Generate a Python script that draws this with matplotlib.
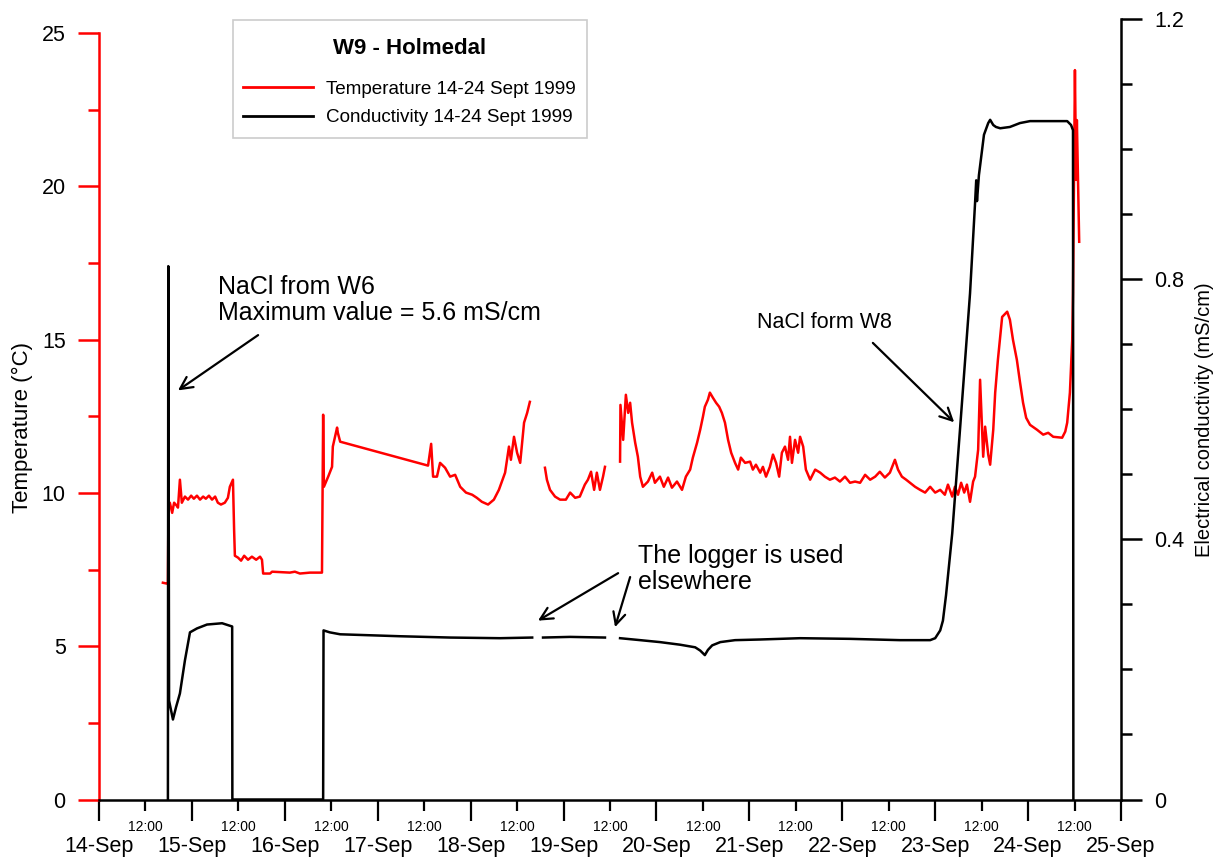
import numpy as np
import pandas as pd
import matplotlib
matplotlib.use("Agg")
import matplotlib.pyplot as plt
import matplotlib.dates as mdates
from matplotlib.patches import Rectangle
from matplotlib.ticker import MultipleLocator, FixedLocator

plt.rcParams['font.family'] = ['Liberation Sans', 'DejaVu Sans']

START = pd.Timestamp('1999-09-14 00:00')
END = pd.Timestamp('1999-09-25 00:00')

# Temperature (°C) logged at W9, hours after 14 Sept 00:00 (NaN = logger out of water)
temp_hours = [
    16.5, 17.6, 17.8, 17.95, 18.3, 18.9, 19.4, 20.1, 20.4, 20.9, 21.4, 22.2, 23.0, 23.8,
    24.5, 25.3, 26.1, 26.9, 27.6, 28.4, 29.2, 30.0, 30.7, 31.5, 32.5, 33.3, 33.8, 34.6,
    34.9, 35.1, 35.9, 36.7, 37.5, 38.5, 39.5, 40.6, 41.6, 42.1, 42.4, 44.2, 44.7, 49.3,
    50.6, 51.9, 54.5, 57.6, 57.9, 58.1, 59.2, 60.2, 60.4, 61.5, 61.7, 62.3, 85.0, 85.8,
    86.3, 87.3, 88.1, 89.4, 90.7, 92.0, 93.3, 94.8, 96.4, 97.6, 98.9, 100.5, 102.0, 103.3,
    104.9, 105.9, 106.4, 107.2, 108.0, 108.8, 109.8, 110.6, 111.3, 113.0,
    115.2, 115.7, 116.5, 117.8, 119.1, 120.6, 121.7, 123.0, 124.2, 125.5, 126.3, 127.1,
    127.9, 128.6, 129.4, 130.2, 130.7, 132.5,
    134.6, 134.7, 135.4, 136.1, 136.7, 137.2, 137.7, 138.5, 139.2, 139.8, 140.5, 141.8,
    142.9, 143.6, 144.9, 145.9, 147.0, 148.0, 149.3, 150.6, 151.6, 152.7, 153.4, 154.5,
    155.3, 156.0, 156.5, 157.3, 157.8, 158.6, 159.4, 160.2, 160.9, 161.7, 162.5, 163.3,
    164.3, 165.1, 165.8, 166.9, 168.2, 168.9, 169.7, 170.8, 171.5, 172.3, 173.3, 174.1,
    174.9, 175.7, 176.4, 177.2, 178.0, 178.5, 179.0, 179.8, 180.6, 181.1, 181.9, 182.6,
    183.7, 185.0, 186.3, 187.5, 188.8, 190.1, 191.4, 192.7, 194.0, 195.3, 196.6, 197.9,
    199.2, 200.5, 201.7, 203.0, 204.3, 205.6, 206.4, 207.4, 208.5, 209.5, 210.8, 212.1,
    213.4, 214.7, 216.0, 217.3, 218.5, 219.3, 220.4, 221.1, 221.9, 222.7, 223.5, 224.2,
    225.0, 225.8, 226.3, 227.1, 227.6, 228.4, 228.9, 229.7, 230.2, 231.0, 231.5, 232.2,
    233.3, 234.6, 235.3, 236.1, 237.1, 237.9, 238.7, 239.5, 240.5, 242.3, 243.9, 245.2,
    246.5, 248.8, 249.6, 250.1, 250.8, 251.4, 251.6, 252.1, 252.4, 252.6, 253.2,
]
temp_values = [
    7.07, 7.04, 7.07, 9.68, 9.68, 9.35, 9.68, 9.58, 9.52, 10.43, 9.68, 9.88, 9.78, 9.91,
    9.81, 9.91, 9.78, 9.88, 9.81, 9.91, 9.78, 9.88, 9.68, 9.62, 9.68, 9.84, 10.2, 10.43,
    8.8, 7.95, 7.89, 7.79, 7.95, 7.82, 7.92, 7.82, 7.92, 7.82, 7.37, 7.37, 7.43, 7.40,
    7.43, 7.37, 7.40, 7.40, 12.55, 10.2, 10.53, 10.85, 11.51, 12.13, 11.96, 11.67, 10.89, 11.6,
    10.53, 10.53, 10.98, 10.82, 10.53, 10.59, 10.2, 10.01, 9.94, 9.84, 9.71, 9.62, 9.78, 10.1,
    10.66, 11.51, 11.08, 11.83, 11.31, 10.98, 12.29, 12.61, 12.97, np.nan,
    10.82, 10.43, 10.1, 9.88, 9.78, 9.78, 10.01, 9.84, 9.88, 10.27, 10.43, 10.69,
    10.1, 10.66, 10.1, 10.53, 10.85, np.nan,
    11.02, 12.87, 11.73, 13.2, 12.61, 12.94, 12.29, 11.64, 11.18, 10.53, 10.2, 10.37,
    10.66, 10.33, 10.53, 10.2, 10.5, 10.17, 10.37, 10.1, 10.53, 10.76, 11.15, 11.64,
    12.06, 12.48, 12.81, 13.04, 13.27, 13.1, 12.94, 12.81, 12.61, 12.29, 11.73, 11.31,
    10.98, 10.76, 11.15, 10.98, 11.02, 10.76, 10.92, 10.66, 10.85, 10.53, 10.85, 11.25,
    10.98, 10.53, 11.31, 11.51, 11.08, 11.83, 10.98, 11.73, 11.31, 11.83, 11.51, 10.76,
    10.43, 10.76, 10.66, 10.53, 10.43, 10.5, 10.37, 10.53, 10.33, 10.37, 10.33, 10.59,
    10.43, 10.53, 10.69, 10.5, 10.66, 11.08, 10.76, 10.53, 10.43, 10.33, 10.2, 10.1,
    10.01, 10.2, 10.01, 10.1, 9.94, 10.27, 9.88, 10.2, 9.94, 10.33, 10.01, 10.27,
    9.71, 10.37, 10.53, 11.41, 13.69, 11.18, 12.16, 11.25, 10.92, 12.06, 13.27, 14.34,
    15.74, 15.91, 15.65, 14.99, 14.34, 13.62, 12.94, 12.45, 12.22, 12.06, 11.9, 11.96,
    11.83, 11.8, 12.0, 12.29, 13.27, 14.99, 16.53, 23.79, 20.21, 22.16, 18.19,
]

# Electrical conductivity (mS/cm), same time base
cond_hours = [
    17.8, 17.9, 18.1, 19.1, 19.9, 20.9, 22.2, 23.5, 25.3, 27.9, 31.8, 34.4, 34.45, 57.9,
    58.0, 59.6, 62.3, 77.8, 90.7, 103.6, 111.9, 113.3, 114.7, 121.7, 130.7, 132.6,
    134.6, 139.8, 144.9, 150.1, 154.0, 155.3, 156.5, 157.3, 158.4, 160.5, 164.3, 170.8,
    181.1, 194.0, 206.9, 214.7, 216.0, 217.3, 218.0, 218.8, 220.4, 222.4, 225.0, 226.3,
    226.6, 226.8, 227.3, 228.1, 228.6, 229.7, 230.2, 231.0, 231.7, 232.8, 235.3, 237.9,
    240.5, 245.7, 250.1, 251.1, 251.6, 251.7,
]
cond_values = [
    0.0, 0.82, 0.152, 0.123, 0.142, 0.163, 0.214, 0.257, 0.263, 0.269, 0.271, 0.266, 0.0, 0.0,
    0.26, 0.257, 0.254, 0.251, 0.249, 0.248, 0.249, np.nan, 0.249, 0.250, 0.249, np.nan,
    0.248, 0.245, 0.242, 0.238, 0.234, 0.229, 0.222, 0.230, 0.237, 0.242, 0.245, 0.246,
    0.248, 0.247, 0.245, 0.245, 0.248, 0.26, 0.275, 0.314, 0.409, 0.568, 0.778, 0.917,
    0.952, 0.92, 0.96, 0.998, 1.022, 1.04, 1.045, 1.037, 1.034, 1.032, 1.034, 1.04,
    1.043, 1.043, 1.043, 1.037, 1.029, 0.0,
]

day_labels_fmt = '%d-%b'
noon_labels_fmt = '%H:%M'


def when(hours):
    return START + pd.to_timedelta(np.asarray(hours, dtype=float), unit='h')


def xnum(hours):
    return mdates.date2num(START + pd.Timedelta(hours=hours))


W, H = 1221, 857
fig = plt.figure(figsize=(W / 100, H / 100), dpi=100)
ax = fig.add_axes([99 / W, 1 - 799.5 / H, (1121 - 99) / W, 780.5 / H])
ax2 = ax.twinx()

l1, = ax.plot(when(temp_hours), temp_values, color='#ff0000', lw=1.8,
              label='Temperature 14-24 Sept 1999')
l2, = ax2.plot(when(cond_hours), cond_values, color='black', lw=1.8,
               label='Conductivity 14-24 Sept 1999')

# x axis: days with noon sub-ticks
ax.set_xlim(START, END)
ax.xaxis.set_major_locator(mdates.DayLocator())
ax.xaxis.set_major_formatter(mdates.DateFormatter(day_labels_fmt))
ax.xaxis.set_minor_locator(mdates.HourLocator(byhour=[12]))
ax.xaxis.set_minor_formatter(mdates.DateFormatter(noon_labels_fmt))
ax.tick_params(axis='x', which='major', length=15, width=1.6, pad=11.5, labelsize=15.5,
               color='black')
ax.tick_params(axis='x', which='minor', length=8, width=1.6, pad=6.5, labelsize=10,
               color='black')

# left axis: temperature
ax.set_ylim(0, 25 * 780.5 / 766.5)
ax.yaxis.set_major_locator(FixedLocator([0, 5, 10, 15, 20, 25]))
ax.yaxis.set_minor_locator(FixedLocator([2.5, 7.5, 12.5, 17.5, 22.5]))
ax.spines['left'].set_bounds(0, 25)
ax.spines['left'].set_color('#ff0000')
ax.spines['left'].set_linewidth(1.8)
ax.spines['bottom'].set_linewidth(1.8)
ax.spines['top'].set_visible(False)
ax.spines['right'].set_visible(False)
ax.tick_params(axis='y', which='major', length=15, width=1.8, color='#ff0000',
               labelsize=15.5, pad=9)
ax.tick_params(axis='y', which='minor', length=8, width=1.8, color='#ff0000')
ax.set_ylabel('Temperature (°C)', fontsize=16)
ax.yaxis.set_label_coords((33 - 99) / 1022, (799.5 - 428) / 780.5)

# right axis: conductivity
ax2.set_ylim(0, 1.2)
ax2.yaxis.set_major_locator(MultipleLocator(0.4))
ax2.yaxis.set_minor_locator(MultipleLocator(0.1))
ax2.yaxis.set_major_formatter(plt.FuncFormatter(lambda v, p: '0' if v == 0 else f'{v:.1f}'))
for s in ('left', 'top', 'bottom'):
    ax2.spines[s].set_visible(False)
ax2.spines['right'].set_linewidth(1.8)
ax2.tick_params(axis='y', which='major', length=15, width=1.8, labelsize=15.5, pad=9)
ax2.tick_params(axis='y', which='minor', length=8, width=1.8)
ax2.set_ylabel('Electrical conductivity (mS/cm)', fontsize=14.5)
ax2.yaxis.set_label_coords((1195 - 99) / 1022, (799.5 - 420) / 780.5)

# legend: content packed by matplotlib, framed by a separate box behind it
frame = Rectangle((233 / W, 1 - 138 / H), (587 - 233) / W, (138 - 20) / H,
                  transform=fig.transFigure, facecolor='white', edgecolor='#cccccc',
                  lw=1.2, zorder=4, clip_on=False)
ax2.add_patch(frame)
leg = ax2.legend([l1, l2], [l1.get_label(), l2.get_label()], title='W9 - Holmedal',
                 loc='upper left', bbox_to_anchor=(243.4 / W, 1 - 38.4 / H),
                 bbox_transform=fig.transFigure, borderaxespad=0, frameon=False,
                 fontsize=13.6, title_fontproperties={'weight': 'bold', 'size': 16},
                 handlelength=3.7, handletextpad=0.65, labelspacing=0.6,
                 borderpad=0)
leg.set_zorder(6)
leg._legend_box.sep = 15.3
for h in leg.legend_handles:
    h.set_linewidth(2.0)

arrow = dict(arrowstyle='->', color='black', lw=1.6, mutation_scale=22, shrinkA=0, shrinkB=0)

# annotations
ax2.text(xnum(30.7), 0.768, 'NaCl from W6\nMaximum value = 5.6 mS/cm', fontsize=18,
         va='center', ha='left', linespacing=1.1)
ax2.annotate('', xy=(xnum(20.4), 0.629), xytext=(xnum(41.1), 0.714), arrowprops=arrow)

ax2.text(xnum(170.0), 0.734, 'NaCl form W8', fontsize=15.5, va='center', ha='left')
ax2.annotate('', xy=(xnum(220.9), 0.58), xytext=(xnum(199.9), 0.702), arrowprops=arrow)

ax2.text(xnum(139.2), 0.354, 'The logger is used\nelsewhere', fontsize=18,
         va='center', ha='left', linespacing=1.1)
ax2.annotate('', xy=(xnum(113.4), 0.275), xytext=(xnum(134.1), 0.348), arrowprops=arrow)
ax2.annotate('', xy=(xnum(133.3), 0.265), xytext=(xnum(137.2), 0.342), arrowprops=arrow)

fig.savefig('out.png', dpi=100)
